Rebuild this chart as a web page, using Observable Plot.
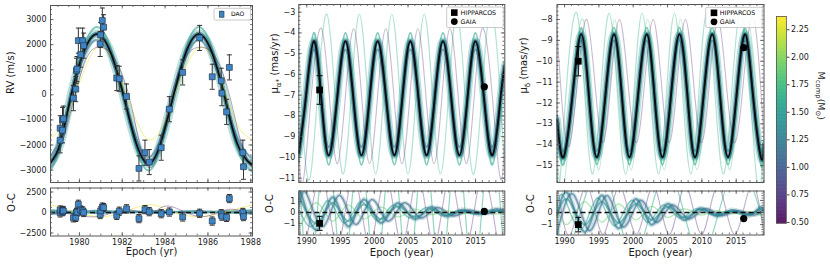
<!DOCTYPE html>
<html><head><meta charset="utf-8">
<script src="https://cdn.jsdelivr.net/npm/d3@7"></script>
<script src="https://cdn.jsdelivr.net/npm/@observablehq/plot@0.6"></script>
<style>
body{margin:0;background:#fff;}
#c{position:relative;width:830px;height:264px;overflow:hidden;background:#fff;}
#c svg{position:absolute;max-width:none;overflow:visible;}
</style></head><body><div id="c"></div>
<script>
// ---------------- DATA ----------------
// Panel 1: DAO radial velocities
const rvEpoch = [1979.10,1979.10,1979.21,1979.21,1979.25,1979.72,1979.83,1979.86,1979.89,1979.95,1980.06,1980.15,1980.20,1980.97,1980.99,1981.07,1981.13,1981.74,1981.86,1982.20,1982.78,1983.06,1983.26,1983.82,1984.20,1984.82,1985.61,1986.20,1986.62,1986.65,1986.87,1987.00,1987.63,1987.66];
const rvValue = [-1813,-1333,-1413,-1000,-950,-133,227,960,1027,2160,1600,2160,1960,2027,2387,2960,2693,667,640,-67,-2933,-2307,-2680,-2107,-573,893,2267,720,560,67,-680,1093,-2307,-2867];
const rvError = [500,500,500,500,500,500,500,500,500,500,500,500,500,500,500,500,500,500,500,500,500,500,500,500,500,500,500,500,500,500,500,500,500,500];
const rvResid = [-50,300,100,250,200,-650,-600,0,50,1000,300,200,0,-250,200,650,600,-350,150,450,-750,350,100,-150,50,-550,-100,-1050,-150,-450,-600,1700,0,-500];
// best-fit RV curve and spread of posterior draws
const rvFitT = [1978.65,1979.1,1979.62,1980.22,1980.83,1981.45,1982.05,1982.64,1983.23,1983.8,1984.4,1985.0,1985.59,1986.18,1986.76,1987.37,1987.99,1988.08];
const rvFit  = [-2700,-1950,0,1750,2420,1700,0,-1900,-2750,-1900,0,1750,2420,1700,0,-1950,-2750,-2730];
const rvHi   = [-3000,-2150,0,1950,2700,1900,0,-2100,-3020,-2100,0,1950,2700,1900,0,-2150,-3020,-3000];
const rvLo   = [-2450,-1700,0,1550,2180,1500,0,-1700,-2480,-1700,0,1550,2180,1500,0,-1700,-2480,-2460];
const rvYelT = [1978.65,1979.2,1979.8,1980.4,1980.95,1981.6,1982.2,1982.8,1983.3,1983.85,1984.45,1985.1,1985.7,1986.3,1986.85,1987.45,1988.08];
const rvYelV = [-1700,-1250,0,1350,1900,1350,0,-1300,-1800,-1300,0,1350,1900,1350,0,-1300,-1800];
const rvPurT = [1978.65,1979.2,1979.7,1980.3,1980.9,1981.6,1982.3,1982.8,1983.3,1983.8,1984.3,1984.95,1985.65,1986.35,1987.0,1987.55,1988.08];
const rvPurV = [-2950,-1900,-300,1400,1900,1500,0,-1900,-2900,-1900,0,1500,1900,1500,0,-1900,-2950];
// O-C (RV)
const oc1T  = [1978.65,1979.4,1980.2,1980.9,1981.6,1982.2,1983.0,1983.6,1984.4,1985.0,1985.6,1986.3,1986.9,1987.5,1988.08];
const oc1Hi = [350,220,180,260,170,200,160,250,150,200,250,160,200,220,320];
const oc1Lo = [-330,-220,-180,-240,-170,-200,-170,-240,-150,-190,-240,-160,-200,-230,-330];
const oc1YelT = [1978.65,1979.3,1979.8,1980.9,1982.1,1983.3,1984.45,1985.65,1986.8,1988.08];
const oc1YelV = [950,450,50,-500,50,950,0,-500,50,950];
const oc1PurT = [1978.65,1979.5,1980.85,1982.2,1983.3,1984.15,1985.6,1986.9,1988.08];
const oc1PurV = [-250,-150,-500,350,-150,800,-500,350,-250];

// Astrometry markers
const astroLabels = ["HIPPARCOS","GAIA"];
const maEpoch = [1991.9, 2016.3], maValue = [-6.75, -6.6], maErr = [0.69, 0], maResid = [-1.0, 0.1], maResidErr = [0.65, 0];
const mdEpoch = [1992.0, 2016.1], mdValue = [-10.0, -9.35], mdErr = [0.7, 0], mdResid = [-1.0, -0.5], mdResidErr = [0.6, 0];

// Panel 2: mu_alpha*
const maT   = [1988.82,1989.85,1991.04,1992.15,1993.25,1994.5,1995.73,1996.9,1998.1,1999.3,2000.5,2001.75,2002.97,2004.15,2005.34,2006.55,2007.75,2008.95,2010.17,2011.4,2012.6,2013.8,2014.97,2016.25,2017.5,2018.7,2019.33];
const maFit = [-9.8,-7.15,-4.4,-7.15,-9.9,-7.15,-4.4,-7.15,-9.9,-7.15,-4.4,-7.15,-9.9,-7.15,-4.4,-7.15,-9.9,-7.15,-4.4,-7.15,-9.9,-7.15,-4.4,-7.15,-9.9,-7.15,-5.6];
const maHi  = [-10.25,-7.15,-4.0,-7.15,-10.35,-7.15,-4.0,-7.15,-10.35,-7.15,-4.0,-7.15,-10.35,-7.15,-4.0,-7.15,-10.35,-7.15,-4.0,-7.15,-10.35,-7.15,-4.0,-7.15,-10.35,-7.15,-5.3];
const maLo  = [-9.4,-7.15,-4.8,-7.15,-9.5,-7.15,-4.8,-7.15,-9.5,-7.15,-4.8,-7.15,-9.5,-7.15,-4.8,-7.15,-9.5,-7.15,-4.8,-7.15,-9.5,-7.15,-4.8,-7.15,-9.5,-7.15,-5.9];
const maOutT = [1988.82,1990.6,1993.0,1995.4,1997.8,2000.2,2002.6,2005.0,2007.4,2009.8,2012.2,2014.6,2017.0,2019.33];
const maOutV = [-4.5,-10.8,-3.1,-10.8,-3.1,-10.8,-3.1,-10.8,-3.1,-10.8,-3.1,-10.8,-3.1,-10.7];
const maPurT = [1988.82,1989.8,1992.2,1994.55,1996.95,1999.3,2001.7,2004.1,2006.45,2008.85,2011.2,2013.6,2015.95,2018.35,2019.33];
const maPurV = [-9.6,-10.3,-3.8,-10.3,-3.8,-10.3,-3.8,-10.3,-3.8,-10.3,-3.8,-10.3,-3.8,-10.3,-8.9];
// O-C (mu_alpha*)
const oc2LobeT = [1988.82,1989.3,1991.5,1993.8,1996.1,1998.4,2000.9,2003.4,2005.9,2008.3,2010.6,2013.0,2015.4,2017.9,2019.33];
const oc2A = [1.3,1.5,-1.6,1.4,-1.3,1.2,-0.95,0.85,-0.6,0.5,-0.35,0.25,-0.15,0.3,0.0];
const oc2B = [0.8,0.9,-1.0,0.9,-0.8,0.75,-0.6,0.55,-0.4,0.3,-0.2,0.15,-0.1,0.15,0.0];
const oc2C = [-0.9,-1.0,0.9,-0.8,0.7,-0.6,0.5,-0.4,0.3,-0.2,0.15,-0.1,0.1,-0.15,0.05];
const oc2ShiftT = [1988.82,1990.0,1992.4,1994.8,1997.2,1999.6,2002.0,2004.4,2006.8,2009.2,2011.6,2014.0,2016.4,2018.8,2019.33];
const oc2D = [0.5,1.7,-1.3,1.6,-1.1,1.2,-0.8,0.9,-0.5,0.45,-0.3,0.2,-0.1,0.25,0.1];
const oc2EarlyT = [1988.82,1991.0,1993.2,1995.6,1998.0,2000.4,2002.8,2005.2,2007.6,2010.0,2012.4,2014.8,2017.2,2019.33];
const oc2E = [0.3,-1.2,1.1,-1.0,1.0,-0.75,0.7,-0.5,0.45,-0.3,0.2,-0.15,0.2,-0.1];
const oc2OutV = [5.2,-5.8,6.7,-6.2,6.7,-6.2,6.7,-6.2,6.7,-6.2,6.7,-6.2,6.7,-5.1];
const oc2PurV = [0.15,-3.0,3.4,-3.0,3.4,-3.0,3.4,-3.0,3.4,-3.0,3.4,-3.0,3.4,-3.0,-3.3];

// Panel 3: mu_delta
const mdT   = [1988.9,1989.85,1991.15,1992.43,1993.55,1994.7,1995.95,1997.2,1998.35,1999.45,2000.7,2001.98,2003.1,2004.25,2005.5,2006.74,2007.9,2009.0,2010.25,2011.5,2012.65,2013.8,2015.05,2016.3,2017.45,2018.6,2019.05];
const mdFit = [-12.8,-14.6,-11.65,-8.7,-11.65,-14.6,-11.65,-8.7,-11.65,-14.6,-11.65,-8.7,-11.65,-14.6,-11.65,-8.7,-11.65,-14.6,-11.65,-8.7,-11.65,-14.6,-11.65,-8.7,-11.65,-14.6,-14.0];
const mdHi  = [-13.0,-14.95,-11.65,-8.4,-11.65,-14.95,-11.65,-8.4,-11.65,-14.95,-11.65,-8.4,-11.65,-14.95,-11.65,-8.4,-11.65,-14.95,-11.65,-8.4,-11.65,-14.95,-11.65,-8.4,-11.65,-14.95,-14.3];
const mdLo  = [-12.6,-14.3,-11.65,-9.0,-11.65,-14.3,-11.65,-9.0,-11.65,-14.3,-11.65,-9.0,-11.65,-14.3,-11.65,-9.0,-11.65,-14.3,-11.65,-9.0,-11.65,-14.3,-11.65,-9.0,-11.65,-14.3,-13.8];
const mdOutT = [1988.9,1989.4,1991.8,1994.1,1996.5,1998.9,2001.3,2003.7,2006.0,2008.4,2010.7,2013.1,2015.5,2017.9,2019.05];
const mdOutV = [-15.2,-15.4,-7.7,-15.4,-7.7,-15.4,-7.7,-15.4,-7.7,-15.4,-7.7,-15.4,-7.7,-15.4,-13.2];
const mdOut2T = [1988.9,1990.2,1992.7,1995.0,1997.3,1999.7,2002.1,2004.5,2006.9,2009.3,2011.6,2014.0,2016.4,2018.8,2019.05];
const mdOut2V = [-14.4,-15.2,-8.0,-15.2,-8.0,-15.2,-8.0,-15.2,-8.0,-15.2,-8.0,-15.2,-8.0,-15.2,-15.0];
const mdPurT = [1988.9,1990.85,1993.25,1995.6,1998.0,2000.45,2002.9,2005.25,2007.6,2009.95,2012.3,2014.7,2017.1,2019.05];
const mdPurV = [-8.5,-13.9,-8.0,-13.9,-8.0,-13.9,-8.0,-13.9,-8.0,-13.9,-8.0,-13.9,-8.0,-13.8];
// O-C (mu_delta)
const oc3LobeT = [1988.9,1990.6,1993.0,1995.4,1997.8,2000.3,2002.6,2004.9,2007.3,2009.7,2012.1,2014.4,2016.8,2018.4,2019.05];
const oc3A = [-0.3,1.5,-1.6,1.4,-1.3,1.1,-1.0,0.7,-0.6,0.35,-0.3,0.2,-0.25,0.4,0.1];
const oc3B = [-0.2,1.0,-1.0,0.9,-0.85,0.7,-0.6,0.45,-0.4,0.25,-0.2,0.12,-0.15,0.25,0.05];
const oc3C = [0.3,-0.9,0.9,-0.8,0.7,-0.6,0.5,-0.4,0.3,-0.2,0.15,-0.1,0.1,-0.2,0.0];
const oc3ShiftT = [1988.9,1991.3,1993.7,1996.1,1998.5,2001.0,2003.3,2005.6,2008.0,2010.4,2012.8,2015.1,2017.5,2019.05];
const oc3D = [-1.7,1.5,-1.5,1.4,-1.2,1.0,-0.8,0.6,-0.5,0.3,-0.25,0.15,-0.2,0.3];
const oc3EarlyT = [1988.9,1990.0,1992.4,1994.8,1997.2,1999.7,2002.0,2004.3,2006.7,2009.1,2011.5,2013.8,2016.2,2018.6,2019.05];
const oc3E = [0.6,1.2,-1.4,1.2,-1.1,1.0,-0.8,0.6,-0.45,0.3,-0.2,0.12,-0.2,0.3,0.2];
const oc3SteepT = [1988.9,1990.5,1995.3,2000.1,2004.9,2009.7,2014.5,2019.05];
const oc3SteepV = [1.0,-3.5,3.5,-3.5,3.5,-3.5,3.5,-1.0];
const oc3PurV = [2.5,-1.8,2.2,-1.8,2.2,-1.8,2.2,-1.8,2.2,-1.8,2.2,-1.8,2.2,-1.8];

// Tick labels
const rvTicks = [-3000,-2000,-1000,0,1000,2000,3000];
const oc1Ticks = [-2500,0,2500];
const yr1Ticks = [1980,1982,1984,1986,1988];
const yr2Ticks = [1990,1995,2000,2005,2010,2015];
const maTicks = [-11,-10,-9,-8,-7,-6,-5,-4,-3];
const mdTicks = [-15,-14,-13,-12,-11,-10,-9,-8];
const ocTicks = [-1,0,1];
const cbTicks = [0.5,0.75,1.0,1.25,1.5,1.75,2.0,2.25];
const CB_MIN = 0.49, CB_MAX = 2.37;

// ---------------- DRAWING ----------------
const container = document.getElementById("c");
const FONT = '"DejaVu Sans", sans-serif';
const TICK = "#555";
const TFS = 8, LFS = 10;
const minus = d => d < 0 ? "\u2212" + Math.abs(d) : String(d);
const rows = (t, v) => t.map((x, i) => ({t: x, v: v[i]}));
const pts = (t, v, e) => t.map((x, i) => ({t: x, v: v[i], e: e[i]}));
const vir = m => d3.interpolateViridis((m - CB_MIN) / (CB_MAX - CB_MIN));
const capSym = {draw(ctx, size) { const w = Math.sqrt(size / Math.PI); ctx.moveTo(-w, 0); ctx.lineTo(w, 0); }};
const ln = (t, v, stroke, sw, op) => Plot.line(rows(t, v), {x: "t", y: "v", curve: "natural", stroke, strokeWidth: sw, strokeOpacity: op, clip: true});

function errMarks(data, color, capR, sym, r, fill, stroke, sw) {
  const withErr = data.filter(d => d.e > 0);
  return [
    Plot.ruleX(withErr, {x: "t", y1: d => d.v - d.e, y2: d => d.v + d.e, stroke: color, strokeWidth: 1}),
    Plot.dot(withErr, {x: "t", y: d => d.v + d.e, symbol: capSym, r: capR, stroke: color, fill: "none", strokeWidth: 1}),
    Plot.dot(withErr, {x: "t", y: d => d.v - d.e, symbol: capSym, r: capR, stroke: color, fill: "none", strokeWidth: 1}),
    Plot.dot(data, {x: "t", y: "v", symbol: sym, r, fill, stroke, strokeWidth: sw})
  ];
}

function range(a, b, s) { return d3.range(Math.ceil(a / s) * s, b + 1e-9, s); }

function panel(o) {
  const iw = o.w - o.ml - o.mr, ih = o.h - o.mt - o.mb;
  const inX = v => v >= o.xd[0] && v <= o.xd[1];
  const inY = v => v >= o.yd[0] && v <= o.yd[1];
  const xM = o.xMaj.filter(inX), xm = range(o.xd[0], o.xd[1], o.xMinStep);
  const yM = o.yMaj.filter(inY), ym = range(o.yd[0], o.yd[1], o.yMinStep);
  const s = {stroke: TICK, strokeWidth: 0.8};
  const marks = [
    ...o.marks,
    Plot.ruleX(xM, {x: d => d, insetTop: ih - 3.5, ...s}),
    Plot.ruleX(xM, {x: d => d, insetBottom: ih - 3.5, ...s}),
    Plot.ruleX(xm, {x: d => d, insetTop: ih - 2, ...s}),
    Plot.ruleX(xm, {x: d => d, insetBottom: ih - 2, ...s}),
    Plot.ruleY(yM, {y: d => d, insetRight: iw - 3.5, ...s}),
    Plot.ruleY(yM, {y: d => d, insetLeft: iw - 3.5, ...s}),
    Plot.ruleY(ym, {y: d => d, insetRight: iw - 2, ...s}),
    Plot.ruleY(ym, {y: d => d, insetLeft: iw - 2, ...s}),
    Plot.frame({stroke: "#555", strokeWidth: 1}),
    Plot.axisY(yM, {anchor: "left", tickSize: 0, tickPadding: o.yPad, tickFormat: minus, label: null, fontSize: TFS}),
    Plot.text([o.yLabel], {frameAnchor: "left", rotate: -90, dx: o.yLabelDx, fontSize: LFS, fill: "#1a1a1a"})
  ];
  if (o.xLabel) {
    marks.push(Plot.axisX(xM, {anchor: "bottom", tickSize: 0, tickPadding: 3.5, tickFormat: d => String(d), label: null, fontSize: TFS}));
    marks.push(Plot.text([o.xLabel], {frameAnchor: "bottom", dy: o.xLabelDy, fontSize: LFS, fill: "#1a1a1a"}));
  }
  const svg = Plot.plot({
    width: o.w, height: o.h, marginLeft: o.ml, marginRight: o.mr, marginTop: o.mt, marginBottom: o.mb,
    x: {domain: o.xd, label: null, ...(o.xLabel ? {} : {axis: null})},
    y: {domain: o.yd, label: null},
    style: {fontFamily: FONT, fontSize: TFS + "px", color: "#1a1a1a", background: "transparent", overflow: "visible"},
    marks
  });
  svg.style.left = o.left + "px";
  svg.style.top = o.top + "px";
  container.append(svg);
  return svg;
}

function rich(svg, key, parts, fs) {
  d3.select(svg).selectAll("text").filter(function() { return this.textContent === key; }).each(function() {
    const el = d3.select(this);
    el.text(null);
    let shift = 0;
    for (const [str, sub] of parts) {
      const ts = el.append("tspan").text(str);
      if (sub) {
        ts.attr("font-size", fs * 0.72);
        if (!shift) { shift = fs * 0.3; ts.attr("dy", shift); }
      } else if (shift) { ts.attr("dy", -shift); shift = 0; }
    }
  });
}

function legend(svg, box, items) {
  const g = d3.select(svg).append("g").attr("font-family", FONT).attr("text-anchor", "start");
  g.append("rect").attr("x", box[0]).attr("y", box[1]).attr("width", box[2]).attr("height", box[3])
    .attr("rx", 1.5).attr("fill", "#fff").attr("fill-opacity", 0.85).attr("stroke", "#bdbdbd").attr("stroke-width", 0.8);
  for (const it of items) {
    if (it.kind === "errsq") {
      g.append("line").attr("x1", it.x).attr("x2", it.x).attr("y1", it.y - 3.5).attr("y2", it.y + 3.5).attr("stroke", "#333");
      g.append("rect").attr("x", it.x - 2.3).attr("y", it.y - 3).attr("width", 4.6).attr("height", 6).attr("fill", "#3f85c6").attr("stroke", "#22364a").attr("stroke-width", 0.6);
    } else if (it.kind === "square") {
      g.append("rect").attr("x", it.x - 3.3).attr("y", it.y - 3.3).attr("width", 6.6).attr("height", 6.6).attr("fill", "#000");
    } else {
      g.append("circle").attr("cx", it.x).attr("cy", it.y).attr("r", 3.4).attr("fill", "#000");
    }
    g.append("text").attr("x", it.tx).attr("y", it.y).attr("dy", "0.35em").attr("text-anchor", "start")
      .attr("font-size", it.fs).attr("fill", "#000").text(it.label);
  }
}

// ---- Column 1: RV ----
const dao = pts(rvEpoch, rvValue, rvError);
const daoRes = pts(rvEpoch, rvResid, rvError);
const p1 = panel({
  left: 0, top: 0, w: 262, h: 186, ml: 50, mr: 10, mt: 5, mb: 4,
  xd: [1978.65, 1988.08], yd: [-3495, 3560], xMaj: yr1Ticks, xMinStep: 0.5, yMaj: rvTicks, yMinStep: 200,
  yPad: 4, yLabel: "RV (m/s)", yLabelDx: -40,
  marks: [
    ln(rvFitT, rvFit, vir(1.5), 9, 0.3),
    ln(rvFitT, rvHi, vir(1.55), 2, 0.55),
    ln(rvFitT, rvLo, vir(1.1), 2, 0.55),
    ln(rvFitT, rvFit, vir(1.2), 4.5, 0.7),
    ln(rvYelT, rvYelV, vir(2.3), 1, 0.5),
    ln(rvPurT, rvPurV, vir(0.62), 1, 0.4),
    ln(rvFitT, rvFit, "#0d0d0d", 1.8, 1),
    ...errMarks(dao, "#333", 2.5, "square", 3.3, "#3f85c6", "#22364a", 0.7)
  ]
});
legend(p1, [214, 8.3, 36.7, 11.7], [{kind: "errsq", x: 221.7, y: 14.2, tx: 231, label: "DAO", fs: 6}]);

const q1 = panel({
  left: 0, top: 186, w: 262, h: 78, ml: 50, mr: 10, mt: 1.5, mb: 28.5,
  xd: [1978.65, 1988.08], yd: [-2870, 2990], xMaj: yr1Ticks, xMinStep: 0.5, yMaj: oc1Ticks, yMinStep: 625,
  yPad: 4, yLabel: "O-C", yLabelDx: -39, xLabel: "Epoch (yr)", xLabelDy: 19,
  marks: [
    Plot.areaY(oc1T.map((t, i) => ({t, lo: oc1Lo[i], hi: oc1Hi[i]})), {x: "t", y1: "lo", y2: "hi", curve: "natural", fill: vir(1.35), fillOpacity: 0.75, clip: true}),
    ln(oc1YelT, oc1YelV, vir(2.3), 1, 0.5),
    ln(oc1PurT, oc1PurV, vir(0.62), 1, 0.4),
    Plot.ruleY([0], {stroke: "#111", strokeWidth: 1.5, strokeDasharray: "5,3"}),
    ...errMarks(daoRes, "#333", 2.5, "square", 3.3, "#3f85c6", "#22364a", 0.7)
  ]
});

// ---- Column 2: mu_alpha* ----
const maPts = pts(maEpoch, maValue, maErr);
const maResPts = pts(maEpoch, maResid, maResidErr);
const p2 = panel({
  left: 268, top: 0, w: 245, h: 186, ml: 30.3, mr: 8.7, mt: 4, mb: 4,
  xd: [1988.82, 2019.33], yd: [-11.21, -2.63], xMaj: yr2Ticks, xMinStep: 1, yMaj: maTicks, yMinStep: 0.2,
  yPad: 3.5, yLabel: "MUA", yLabelDx: -24,
  marks: [
    ln(maT, maFit, vir(1.5), 8, 0.3),
    ln(maT, maHi, vir(1.55), 2, 0.55),
    ln(maT, maLo, vir(1.1), 2, 0.55),
    ln(maT, maFit, vir(1.2), 4.5, 0.7),
    ln(maOutT, maOutV, vir(1.65), 1.2, 0.35),
    ln(maPurT, maPurV, vir(0.62), 1.1, 0.3),
    ln(maT, maFit, "#0d0d0d", 2, 1),
    ...errMarks(maPts.slice(0, 1), "#000", 3, "square", 3.8, "#000", "#000", 0),
    Plot.dot(maPts.slice(1), {x: "t", y: "v", r: 3.6, fill: "#000"})
  ]
});
legend(p2, [178.7, 7, 56.6, 20.5], [
  {kind: "square", x: 186.3, y: 12.6, tx: 192.6, label: astroLabels[0], fs: 6.3},
  {kind: "circle", x: 186.3, y: 21.6, tx: 192.6, label: astroLabels[1], fs: 6.3}
]);
const q2 = panel({
  left: 268, top: 186, w: 245, h: 78, ml: 30.3, mr: 8.7, mt: 4.5, mb: 29.5,
  xd: [1988.82, 2019.33], yd: [-2.08, 1.99], xMaj: yr2Ticks, xMinStep: 1, yMaj: ocTicks, yMinStep: 0.2,
  yPad: 3.5, yLabel: "O-C", yLabelDx: -29, xLabel: "Epoch (year)", xLabelDy: 20.5,
  marks: [
    ln(maOutT, oc2OutV, vir(1.65), 1.2, 0.5),
    ln(maPurT, oc2PurV, vir(0.62), 1.1, 0.35),
    ln(oc2LobeT, oc2A, vir(1.35), 5, 0.22),
    ln(oc2ShiftT, oc2D, vir(1.2), 4, 0.22),
    ln(oc2LobeT, oc2C, vir(1.9), 1.3, 0.45),
    ln(oc2EarlyT, oc2E, vir(1.5), 1.5, 0.5),
    ln(oc2ShiftT, oc2D, vir(1.05), 1.5, 0.55),
    ln(oc2LobeT, oc2B, vir(1.4), 2, 0.55),
    ln(oc2LobeT, oc2A, vir(1.2), 2, 0.6),
    Plot.ruleY([0], {stroke: "#111", strokeWidth: 1.5, strokeDasharray: "5,3"}),
    ...errMarks(maResPts.slice(0, 1), "#000", 3, "square", 3.8, "#000", "#000", 0),
    Plot.dot(maResPts.slice(1), {x: "t", y: "v", r: 3.6, fill: "#000"})
  ]
});

// ---- Column 3: mu_delta ----
const mdPts = pts(mdEpoch, mdValue, mdErr);
const mdResPts = pts(mdEpoch, mdResid, mdResidErr);
const p3 = panel({
  left: 512, top: 0, w: 258, h: 186, ml: 44.5, mr: 6.5, mt: 4, mb: 4,
  xd: [1988.9, 2019.05], yd: [-15.81, -7.28], xMaj: yr2Ticks, xMinStep: 1, yMaj: mdTicks, yMinStep: 0.2,
  yPad: 4.5, yLabel: "MUD", yLabelDx: -33.5,
  marks: [
    ln(mdT, mdFit, vir(1.5), 8, 0.3),
    ln(mdT, mdHi, vir(1.55), 2, 0.55),
    ln(mdT, mdLo, vir(1.1), 2, 0.55),
    ln(mdT, mdFit, vir(1.2), 4.5, 0.7),
    ln(mdOutT, mdOutV, vir(1.65), 1.2, 0.35),
    ln(mdOut2T, mdOut2V, vir(1.75), 1.1, 0.3),
    ln(mdPurT, mdPurV, vir(0.62), 1.1, 0.3),
    ln(mdT, mdFit, "#0d0d0d", 2, 1),
    ...errMarks(mdPts.slice(0, 1), "#000", 3, "square", 3.8, "#000", "#000", 0),
    Plot.dot(mdPts.slice(1), {x: "t", y: "v", r: 3.6, fill: "#000"})
  ]
});
legend(p3, [193.7, 7.3, 56.6, 20.2], [
  {kind: "square", x: 202, y: 12.8, tx: 207.8, label: astroLabels[0], fs: 6.3},
  {kind: "circle", x: 202, y: 21.8, tx: 207.8, label: astroLabels[1], fs: 6.3}
]);
const q3 = panel({
  left: 512, top: 186, w: 258, h: 78, ml: 44.5, mr: 6.5, mt: 4.5, mb: 29.5,
  xd: [1988.9, 2019.05], yd: [-1.86, 1.78], xMaj: yr2Ticks, xMinStep: 1, yMaj: ocTicks, yMinStep: 0.2,
  yPad: 4.5, yLabel: "O-C", yLabelDx: -26, xLabel: "Epoch (year)", xLabelDy: 20.5,
  marks: [
    ln(oc3SteepT, oc3SteepV, vir(1.65), 1.2, 0.5),
    ln(mdPurT, oc3PurV, vir(0.62), 1.1, 0.35),
    ln(oc3LobeT, oc3A, vir(1.35), 5, 0.22),
    ln(oc3ShiftT, oc3D, vir(1.2), 4, 0.22),
    ln(oc3LobeT, oc3C, vir(1.9), 1.3, 0.45),
    ln(oc3EarlyT, oc3E, vir(1.5), 1.5, 0.5),
    ln(oc3ShiftT, oc3D, vir(1.05), 1.5, 0.55),
    ln(oc3LobeT, oc3B, vir(1.4), 2, 0.55),
    ln(oc3LobeT, oc3A, vir(1.2), 2, 0.6),
    Plot.ruleY([0], {stroke: "#111", strokeWidth: 1.5, strokeDasharray: "5,3"}),
    ...errMarks(mdResPts.slice(0, 1), "#000", 3, "square", 3.8, "#000", "#000", 0),
    Plot.dot(mdResPts.slice(1), {x: "t", y: "v", r: 3.6, fill: "#000"})
  ]
});

// ---- Colorbar ----
const cbStops = d3.range(CB_MIN, CB_MAX, 0.004);
const cb = Plot.plot({
  width: 60, height: 264, marginLeft: 6, marginRight: 44, marginTop: 16, marginBottom: 41,
  x: {domain: [0, 1], axis: null},
  y: {domain: [CB_MIN, CB_MAX], label: null},
  color: {type: "linear", scheme: "viridis", domain: [CB_MIN, CB_MAX]},
  style: {fontFamily: FONT, fontSize: TFS + "px", color: "#1a1a1a", background: "transparent", overflow: "visible"},
  marks: [
    Plot.rect(cbStops, {x1: 0, x2: 1, y1: d => d, y2: d => d + 0.006, fill: d => d, clip: true}),
    Plot.frame({stroke: "#555", strokeWidth: 0.8}),
    Plot.axisY(cbTicks, {anchor: "right", tickSize: 2.5, tickPadding: 2, tickFormat: d => d.toFixed(2), label: null, fontSize: TFS, stroke: "#444"}),
    Plot.text(["MCOMP"], {frameAnchor: "right", rotate: 90, dx: 35, fontSize: 9.5, fill: "#1a1a1a"})
  ]
});
cb.style.left = "770px"; cb.style.top = "0px";
container.append(cb);

// rich labels with subscripts
rich(p2, "MUA", [["μ", false], ["α*", true], [" (mas/yr)", false]], LFS);
rich(p3, "MUD", [["μ", false], ["δ", true], [" (mas/yr)", false]], LFS);
rich(cb, "MCOMP", [["M", false], ["comp", true], ["(M", false], ["⊙", true], [")", false]], 9.5);
</script></body></html>
